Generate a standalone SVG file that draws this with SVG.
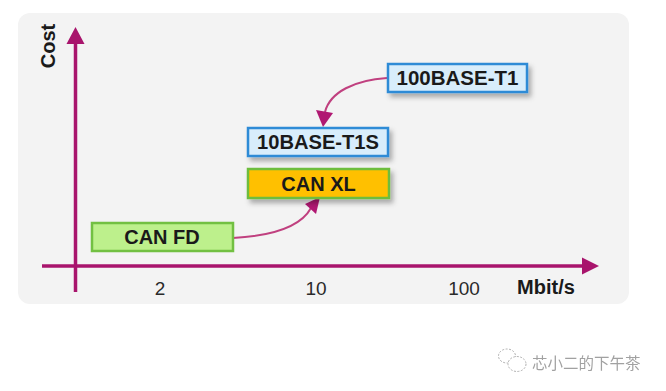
<svg xmlns="http://www.w3.org/2000/svg" width="666" height="391" viewBox="0 0 666 391">
  <defs>
    <style>
      .axis { stroke: #a8146c; stroke-width: 3.5; fill: none; }
      .conn { stroke: #c0407f; stroke-width: 2; fill: none; }
      .lbl { font-family: "Liberation Sans", Arial, sans-serif; font-weight: bold; font-size: 20px; fill: #1a1a1a; text-anchor: middle; }
      .tick { font-family: "Liberation Sans", Arial, sans-serif; font-size: 19px; fill: #2a2a2a; text-anchor: middle; }
      .blue { fill: #d8edfb; stroke: #2f8bd6; stroke-width: 2.5; }
      .orange { fill: #ffc000; stroke: #6dbd3c; stroke-width: 2.5; }
      .lgreen { fill: #bdf08c; stroke: #72c042; stroke-width: 2.5; }
      .wm { font-family: "Noto Sans CJK SC", sans-serif; font-size: 15.5px; fill: #8a8a8a; }
    </style>
    <filter id="sh" x="-10%" y="-20%" width="125%" height="160%">
      <feDropShadow dx="3" dy="4" stdDeviation="2.5" flood-color="#000" flood-opacity="0.3"/>
    </filter>
  </defs>

  <rect width="666" height="391" fill="#ffffff"/>
  <rect x="18" y="13" width="611" height="291" rx="12" fill="#f3f3f3"/>

  <g id="axes">
    <line class="axis" x1="75.5" y1="292" x2="75.5" y2="42"/>
    <path d="M75.5,27 L84.5,44 L66.5,44 z" fill="#a8146c"/>
    <line class="axis" x1="42" y1="266" x2="584" y2="266"/>
    <path d="M599,266 L582,257.5 L582,274.5 z" fill="#a8146c"/>
    <text class="lbl" transform="translate(55,46) rotate(-90)">Cost</text>
    <text class="tick" x="160" y="295">2</text>
    <text class="tick" x="316" y="295">10</text>
    <text class="tick" x="464" y="295">100</text>
    <text class="lbl" x="546" y="294">Mbit/s</text>
  </g>

  <g id="connectors">
    <path class="conn" d="M387,78 C355,80 330,92 325,112"/>
    <path d="M323,127 L316,110 L333,113 z" fill="#b01872"/>
    <path class="conn" d="M233,238 C270,236 300,228 311,208"/>
    <path d="M320,197 L316,214 L305,204 z" fill="#b01872"/>
  </g>

  <g id="node-100base-t1">
    <rect class="blue" x="388" y="64" width="139" height="28" filter="url(#sh)"/>
    <text class="lbl" x="457.5" y="85" textLength="122" lengthAdjust="spacingAndGlyphs">100BASE-T1</text>
  </g>

  <g id="node-10base-t1s">
    <rect class="blue" x="248" y="128" width="140" height="28" filter="url(#sh)"/>
    <text class="lbl" x="318" y="149" textLength="122" lengthAdjust="spacingAndGlyphs">10BASE-T1S</text>
  </g>

  <g id="node-can-xl">
    <rect class="orange" x="248" y="169" width="141" height="29" filter="url(#sh)"/>
    <text class="lbl" x="318.5" y="191">CAN XL</text>
  </g>

  <g id="node-can-fd">
    <rect class="lgreen" x="92" y="223" width="141" height="28"/>
    <text class="lbl" x="162" y="244">CAN FD</text>
  </g>

  <g id="watermark" opacity="0.8">
    <ellipse cx="507" cy="356" rx="8.5" ry="7" fill="none" stroke="#9a9a9a" stroke-width="1" stroke-dasharray="2 1.5"/>
    <ellipse cx="517" cy="364" rx="9" ry="7.5" fill="#fff" stroke="#9a9a9a" stroke-width="1" stroke-dasharray="2 1.5"/>
    <text class="wm" x="532" y="369">芯小二的下午茶</text>
  </g>
</svg>
